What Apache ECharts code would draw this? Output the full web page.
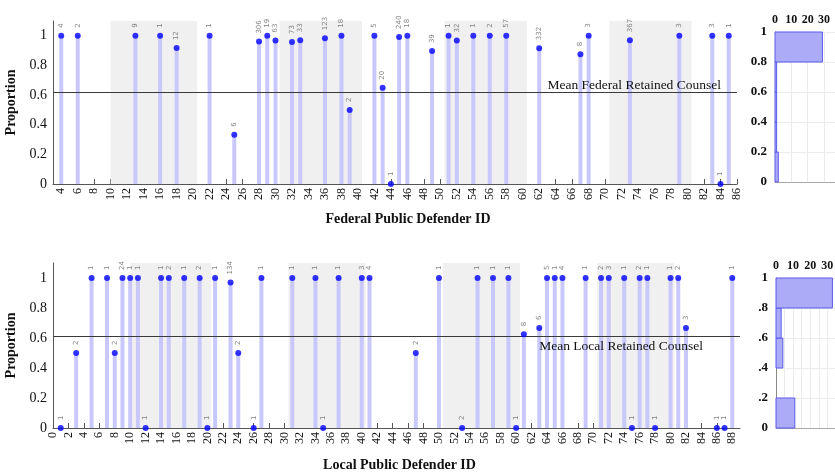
<!DOCTYPE html>
<html>
<head>
<meta charset="utf-8">
<script src="https://cdn.jsdelivr.net/npm/echarts@6/dist/echarts.min.js"></script>
<style>
  html, body { margin: 0; padding: 0; background: #fff; }
  #chart { width: 835px; height: 476px; }
</style>
</head>
<body>
<div id="chart"></div>
<script>
// Federal public defenders: ID, share of clients with retained counsel, number of cases
const fedIds = [4, 6, 13, 16, 18, 22, 25, 28, 29, 30, 32, 33, 36, 38, 39, 42, 43, 44, 45, 46, 49, 51, 52, 54, 56, 58, 62, 67, 68, 73, 79, 83, 84, 85];
const fedProp = [1, 1, 1, 1, 0.917, 1, 0.333, 0.961, 1, 0.968, 0.959, 0.97, 0.984, 1, 0.5, 1, 0.65, 0, 0.992, 1, 0.897, 1, 0.969, 1, 1, 1, 0.916, 0.875, 1, 0.97, 1, 1, 0, 1];
const fedCases = [4, 2, 9, 1, 12, 1, 6, 306, 19, 63, 73, 33, 123, 18, 2, 5, 20, 1, 240, 18, 39, 1, 32, 1, 2, 57, 332, 8, 3, 367, 3, 3, 1, 1];
const fedMean = 0.617;

// Local public defenders
const locIds = [1, 3, 5, 7, 8, 9, 10, 11, 12, 14, 15, 17, 19, 20, 21, 23, 24, 26, 27, 31, 34, 35, 37, 40, 41, 47, 50, 53, 55, 57, 59, 60, 61, 63, 64, 65, 66, 69, 71, 72, 74, 75, 76, 77, 78, 80, 81, 82, 86, 87, 88];
const locProp = [0, 0.5, 1, 1, 0.5, 1, 1, 1, 0, 1, 1, 1, 1, 0, 1, 0.97, 0.5, 0, 1, 1, 1, 0, 1, 1, 1, 0.5, 1, 0, 1, 1, 1, 0, 0.625, 0.667, 1, 1, 1, 1, 1, 1, 1, 0, 1, 1, 0, 1, 1, 0.667, 0, 0, 1];
const locCases = [1, 2, 1, 1, 2, 24, 1, 1, 1, 1, 2, 1, 2, 1, 1, 134, 2, 1, 1, 1, 1, 1, 1, 3, 4, 2, 1, 2, 1, 1, 1, 1, 8, 6, 5, 1, 4, 1, 2, 3, 1, 1, 2, 1, 1, 1, 2, 3, 1, 1, 1];
const locMean = 0.612;

// Tick values
const fedTicks = [];
for (let v = 4; v <= 86; v += 2) fedTicks.push(v);
const locTicks = [];
for (let v = 0; v <= 88; v += 2) locTicks.push(v);
const propTicks = [0, 0.2, 0.4, 0.6, 0.8, 1];
const histTicks = [0, 10, 20, 30];

// Shaded ID groups
const bands = [[10, 20.5], [30.5, 40.5], [50.5, 60.5], [70.5, 80.5]];

// Histogram bins of the proportions
const binEdges = [0, 0.2, 0.4, 0.6, 0.8, 1];
function histogram(values) {
  const out = [];
  for (let i = 0; i < binEdges.length - 1; i++) {
    const lo = binEdges[i], hi = binEdges[i + 1];
    const last = i === binEdges.length - 2;
    const n = values.filter(v => v >= lo && (last ? v <= hi : v < hi)).length;
    if (n > 0) out.push([n, lo, hi]);
  }
  return out;
}

const SERIF = '"Liberation Serif", "DejaVu Serif", serif';
const stemColor = '#c8c8fc';
const dotColor = '#0000ff';

function stemSeries(ids, props, xi) {
  return {
    type: 'custom',
    xAxisIndex: xi, yAxisIndex: xi,
    silent: true,
    data: ids.map((id, i) => [id, props[i]]),
    renderItem: function (params, api) {
      const p0 = api.coord([api.value(0), 0]);
      const p1 = api.coord([api.value(0), api.value(1)]);
      return {
        type: 'line',
        shape: { x1: p0[0], y1: p0[1], x2: p1[0], y2: p1[1] },
        style: { stroke: stemColor, lineWidth: 4 }
      };
    },
    z: 3
  };
}

function bandSeries(xi) {
  return {
    type: 'line',
    xAxisIndex: xi, yAxisIndex: xi,
    data: [],
    markArea: {
      silent: true,
      itemStyle: { color: '#f0f0f0' },
      data: bands.map(b => [{ xAxis: b[0] }, { xAxis: b[1] }])
    },
    z: 1
  };
}

function dotSeries(ids, props, cases, xi, mean, meanText, meanPos, meanDist) {
  return {
    type: 'scatter',
    xAxisIndex: xi, yAxisIndex: xi,
    symbol: 'circle',
    symbolSize: 6,
    itemStyle: { color: dotColor },
    data: ids.map((id, i) => ({ value: [id, props[i]], n: cases[i] })),
    label: {
      show: true,
      position: 'top',
      distance: 5,
      rotate: 90,
      align: 'left',
      verticalAlign: 'middle',
      fontSize: 7,
      color: '#666',
      fontFamily: '"DejaVu Sans", sans-serif',
      formatter: p => String(p.data.n)
    },
    markLine: {
      silent: true,
      symbol: 'none',
      lineStyle: { color: '#3a3a3a', width: 1.2, type: 'solid' },
      label: {
        show: true,
        position: meanPos,
        distance: meanDist,
        formatter: meanText,
        fontFamily: SERIF,
        fontSize: 13.5,
        color: '#111'
      },
      data: [{ yAxis: mean }]
    },
    z: 5
  };
}

function histSeries(values, xi) {
  return {
    type: 'custom',
    xAxisIndex: xi, yAxisIndex: xi,
    silent: true,
    data: histogram(values),
    renderItem: function (params, api) {
      const a = api.coord([0, api.value(2)]);
      const b = api.coord([api.value(0), api.value(1)]);
      return {
        type: 'rect',
        shape: { x: a[0], y: a[1], width: b[0] - a[0], height: b[1] - a[1] },
        style: { fill: '#ababf7', stroke: '#5b5bea', lineWidth: 1 }
      };
    },
    z: 3
  };
}

function mainX(gi, min, max, ticks, title, gap, pad) {
  return {
    type: 'value', gridIndex: gi, min: min, max: max,
    axisLine: { show: true, onZero: false, lineStyle: { color: '#555', width: 1 } },
    axisTick: { show: true, inside: true, length: 5, customValues: ticks, lineStyle: { color: '#555' } },
    axisLabel: {
      customValues: ticks, rotate: 90, fontFamily: SERIF, fontSize: 12, color: '#111', margin: 4
    },
    splitLine: { show: false },
    name: title, nameLocation: 'middle', nameGap: gap,
    nameTextStyle: { fontFamily: SERIF, fontWeight: 'bold', fontSize: 14, color: '#111', padding: pad }
  };
}

function mainY(gi) {
  return {
    type: 'value', gridIndex: gi, min: 0, max: 1.1,
    axisLine: { show: true, lineStyle: { color: '#555', width: 1 } },
    axisTick: { show: false },
    axisLabel: {
      customValues: propTicks, fontFamily: SERIF, fontSize: 14, color: '#111', margin: 6,
      formatter: v => String(+v.toFixed(1))
    },
    splitLine: { show: false },
    name: 'Proportion', nameLocation: 'middle', nameGap: 29,
    nameTextStyle: { fontFamily: SERIF, fontWeight: 'bold', fontSize: 14, color: '#111' }
  };
}

function histX(gi, max) {
  return {
    type: 'value', gridIndex: gi, min: 0, max: max, position: 'top',
    axisLine: { show: true, lineStyle: { color: '#aaa', width: 1 } },
    axisTick: { show: false },
    axisLabel: { customValues: histTicks, fontFamily: SERIF, fontWeight: 'bold', fontSize: 12, color: '#111', margin: 6 },
    splitLine: { show: true, lineStyle: { color: '#ececec', width: 1 } }
  };
}

function histY(gi, fmt) {
  return {
    type: 'value', gridIndex: gi, min: 0, max: 1, interval: 0.2,
    axisLine: { show: true, lineStyle: { color: '#888', width: 1 } },
    axisTick: { show: false },
    axisLabel: { fontFamily: SERIF, fontWeight: 'bold', fontSize: 13, color: '#111', margin: 8, formatter: fmt },
    splitLine: { show: true, lineStyle: { color: '#ececec', width: 1 } }
  };
}

const chart = echarts.init(document.getElementById('chart'), null, { renderer: 'canvas' });
chart.setOption({
  backgroundColor: '#ffffff',
  animation: false,
  grid: [
    { left: 53, top: 21, width: 684, height: 163, outerBoundsMode: 'none', containLabel: false },
    { left: 53, top: 263, width: 687, height: 165, outerBoundsMode: 'none', containLabel: false },
    { left: 775, top: 32, width: 60, height: 150, outerBoundsMode: 'none', containLabel: false },
    { left: 776, top: 278, width: 59, height: 150, outerBoundsMode: 'none', containLabel: false }
  ],
  xAxis: [
    mainX(0, 3, 86, fedTicks, 'Federal Public Defender ID', 28, [0, 0, 0, 26]),
    mainX(1, 0, 89, locTicks, 'Local Public Defender ID', 30, [0, 0, 0, 6]),
    histX(2, 36.7),
    histX(3, 34.5)
  ],
  yAxis: [
    mainY(0),
    mainY(1),
    histY(2, v => String(+v.toFixed(1))),
    histY(3, v => v === 0 || v === 1 ? String(v) : '.' + Math.round(v * 10))
  ],
  series: [
    bandSeries(0),
    stemSeries(fedIds, fedProp, 0),
    dotSeries(fedIds, fedProp, fedCases, 0, fedMean, 'Mean Federal Retained Counsel', 'insideEndTop', [16, 0]),
    bandSeries(1),
    stemSeries(locIds, locProp, 1),
    dotSeries(locIds, locProp, locCases, 1, locMean, 'Mean Local Retained Counsel', 'insideEndBottom', [37, 3]),
    histSeries(fedProp, 2),
    histSeries(locProp, 3)
  ]
});
</script>
</body>
</html>
